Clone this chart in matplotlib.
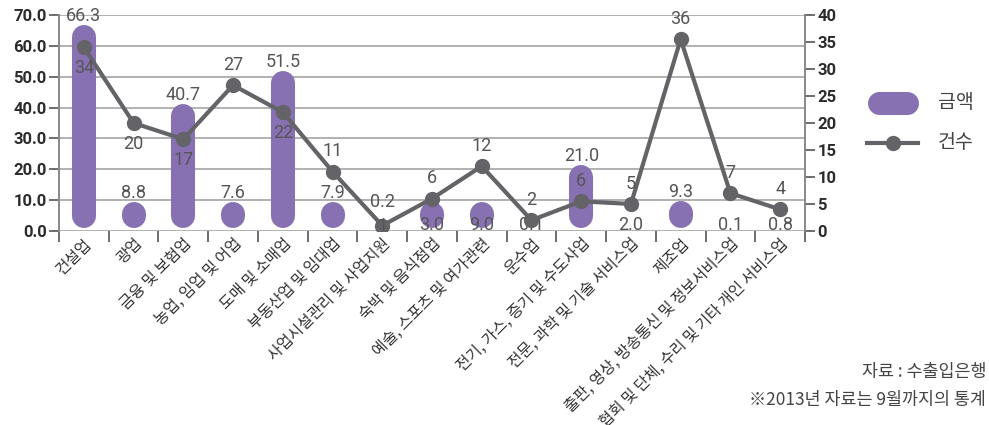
import matplotlib.pyplot as plt
from matplotlib.lines import Line2D
import numpy as np

plt.rcParams['font.family'] = ['Noto Sans CJK KR', 'DejaVu Sans']

industries = ['건설업', '광업', '금융 및 보험업', '농업, 임업 및 어업', '도매 및 소매업',
              '부동산업 및 임대업', '사업시설관리 및 사업지원', '숙박 및 음식점업',
              '예술, 스포츠 및 여가관련', '운수업', '전기, 가스, 증기 및 수도사업',
              '전문, 과학 및 기술 서비스업', '제조업', '출판, 영상, 방송통신 및 정보서비스업',
              '협회 및 단체, 수리 및 기타 개인 서비스업']
amount = [66.3, 8.8, 40.7, 7.6, 51.5, 7.9, 0.2, 3.0, 9.0, 0.1, 21.0, 2.0, 9.3, 0.1, 0.8]
count = [34, 20, 17, 27, 22, 11, 1, 6, 12, 2, 5.5, 5, 35.5, 7, 4]

# where the value labels sit
amount_pos = ['above', 'above', 'above', 'above', 'above', 'above', 'mid', 'low',
              'low', 'low', 'above', 'low', 'above', 'low', 'low']
count_pos = ['below', 'below', 'below', 'above', 'below', 'above', 'center', 'above',
             'above', 'above', 'above', 'above', 'above', 'above', 'above']

purple = '#8771b3'
grey_line = '#646468'
num_font = ['Roboto', 'DejaVu Sans']

fig = plt.figure(figsize=(9.89, 4.25), dpi=100)
ax = fig.add_axes([59 / 989, 1 - 231 / 425, (805 - 59) / 989, (231 - 15) / 425])
ax2 = ax.twinx()

x = np.arange(len(industries))

# capsule bars: thick lines with round caps
r = 3.96
tops = []
for xi, v in zip(x, amount):
    lo = 1 + r
    hi = max(v + 0.5 - r, lo + 0.6)
    tops.append(hi + r)
    if v < 2.5:
        continue
    ax.plot([xi, xi], [lo, hi], color=purple, lw=17.3, solid_capstyle='round', zorder=3)

label_kw = dict(textcoords='offset points', ha='center', va='center', fontsize=13,
                color='#555555', family=num_font, zorder=5)
for xi, v, t, p in zip(x, amount, tops, amount_pos):
    if p == 'above':
        ax.annotate(f'{v:.1f}', (xi, t), xytext=(0, 6.5), **label_kw)
    elif p == 'mid':
        ax.annotate(f'{v:.1f}', (xi, 0), xytext=(0, 21), **label_kw)
    else:
        ax.annotate(f'{v:.1f}', (xi, 0), xytext=(0, 4.5), **label_kw)

ax2.plot(x, count, color=grey_line, lw=3, marker='o', ms=10, zorder=4)
for xi, c, p in zip(x, count, count_pos):
    dy = {'above': 14.5, 'below': -15, 'center': 0}[p]
    ax2.annotate(f'{c:.0f}', (xi, c), xytext=(0, dy), **label_kw)

ax.set_xlim(-0.5, len(industries) - 0.5)
ax.set_ylim(0, 70)
ax2.set_ylim(0, 40)
ax.set_yticks(np.arange(0, 71, 10))
ax.set_yticklabels([f'{t:.1f}' for t in np.arange(0, 71, 10)])
ax2.set_yticks(np.arange(0, 41, 5))
ax2.set_yticklabels([str(t) for t in range(0, 41, 5)])

ax.yaxis.grid(True, color='#ababab', lw=1.3)
ax.set_axisbelow(True)

ax.set_xticks(x)
ax.set_xticklabels(industries, rotation=45, ha='right', va='top',
                   rotation_mode='anchor', fontsize=11.3, color='#333333')
ax.set_xticks(np.arange(-0.5, len(industries), 1), minor=True)
ax.tick_params(axis='x', which='major', length=0, pad=3)
ax.tick_params(axis='x', which='minor', length=8, color='#555555', width=1.2)
ax.tick_params(axis='y', length=7, color='#555555', width=1.2, pad=2)
ax2.tick_params(axis='y', length=7, color='#555555', width=1.2, pad=2)

for lab in ax.get_yticklabels() + ax2.get_yticklabels():
    lab.set_fontfamily(num_font)
    lab.set_fontweight('bold')
    lab.set_fontsize(12)
    lab.set_color('#2b2b2b')

for a in (ax, ax2):
    a.spines['top'].set_visible(False)
    a.spines['bottom'].set_visible(False)
    a.spines['left'].set_color('#888888')
    a.spines['right'].set_color('#888888')
    a.spines['left'].set_linewidth(1.2)
    a.spines['right'].set_linewidth(1.2)

# legend drawn by hand
fig.add_artist(Line2D([878.5 / 989, 906.5 / 989], [1 - 103 / 425] * 2, color=purple,
                      lw=16.6, solid_capstyle='round'))
fig.text(938 / 989, 1 - 102 / 425, '금액', fontsize=14, color='#444444', va='center')
fig.add_artist(Line2D([867 / 989, 918 / 989], [1 - 143 / 425] * 2, color=grey_line, lw=3))
fig.add_artist(Line2D([892.5 / 989], [1 - 143 / 425], color=grey_line, marker='o', ms=10))
fig.text(938 / 989, 1 - 143 / 425, '건수', fontsize=14, color='#444444', va='center')

fig.text(986 / 989, 1 - 372 / 425, '자료 : 수출입은행', fontsize=12.5, color='#444444',
         ha='right', va='center')
fig.text(986 / 989, 1 - 400 / 425, '※2013년 자료는 9월까지의 통계', fontsize=12.5,
         color='#444444', ha='right', va='center')

fig.savefig('out.png', dpi=100)
